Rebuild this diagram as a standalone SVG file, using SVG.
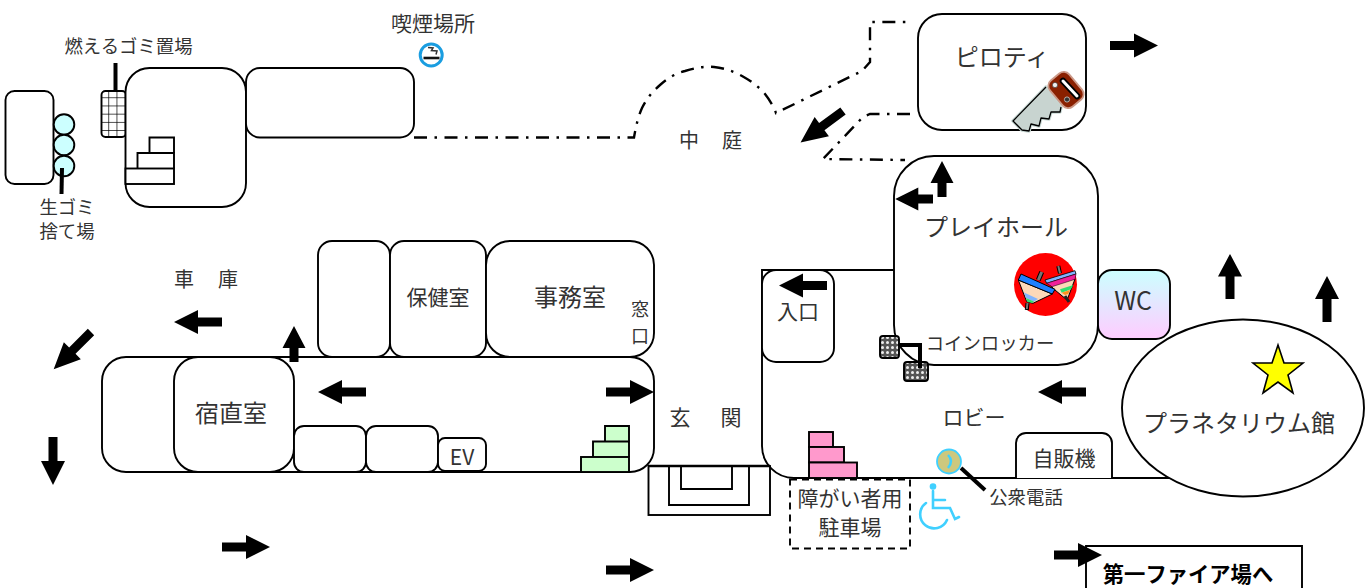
<svg xmlns="http://www.w3.org/2000/svg" width="1368" height="588" viewBox="0 0 1368 588">
<style>
.b{fill:#fff;stroke:#000;stroke-width:1.9}
.n{fill:none;stroke:#000;stroke-width:1.9}
.k{fill:none;stroke:#000;stroke-width:4}
.dd{fill:none;stroke:#000;stroke-width:2.4;stroke-dasharray:13 7.500 2.500 7.500}
.cy{fill:none;stroke:#40d0ff;stroke-width:2.6;stroke-linecap:round}
text{font-family:"Noto Sans CJK JP","Noto Sans",sans-serif;fill:#333;text-anchor:middle;font-weight:400}
.s18{font-size:18.4px}.s21{font-size:21px}.s24{font-size:24px}
</style>
<defs>
<path id="ar" d="M0-4.500H24V-12L48 0 24 12V4.500H0Z" fill="#000"/>
<path id="ars" d="M0-4.500H14V-11.500L36 0 14 11.500V4.500H0Z" fill="#000"/>
<pattern id="grid" width="8.200" height="8.200" patternUnits="userSpaceOnUse" x="101" y="90"><path d="M8.200 0V8.200M0 8.200H8.200" stroke="#000" stroke-width="1.400" fill="none"/></pattern>
<pattern id="dots" width="5" height="5" patternUnits="userSpaceOnUse"><rect width="5" height="5" fill="#555"/><circle cx="2.500" cy="2.500" r="1.500" fill="#eee"/></pattern>
<linearGradient id="wc" x1="0" y1="0" x2="0" y2="1"><stop offset="0" stop-color="#ccffff"/><stop offset="1" stop-color="#ffccff"/></linearGradient>
</defs>
<g id="connectors">
<path class="dd" d="M414 137.500H634C636 126 638 117 642 108C647 98 652 92 660 85C668 78 676 73 685 71C695 68 704 66 714 67C724 68 733 71 742 76C751 81 758 86 765 94C769 99 774 107 776 113L862 71L870 62V22H912"/>
<path class="dd" d="M910 114H870L863 117L823 159L905 160"/>
</g>
<g id="lobby">
<path class="n" d="M894 270H762V446A32 32 0 0 0 794 478H1172"/>
</g>
<g id="entrance">
<rect class="b" x="648.500" y="466" width="121.500" height="49"/>
<path class="n" d="M669 466V505H749V466M681 466V489H732V466"/>
<path d="M648 466H770" stroke="#000" stroke-width="2.400"/>
</g>
<g id="block-a"><rect class="b" x="5.500" y="91" width="48" height="93" rx="9"/>
<circle class="b" cx="64" cy="124.500" r="10.300" style="fill:#ccffff"/><circle class="b" cx="64" cy="145" r="10.300" style="fill:#ccffff"/><circle class="b" cx="64" cy="166" r="10.300" style="fill:#ccffff"/>
<path class="k" d="M62 168L61.500 194"/>
</g>
<g id="burnable-trash"><rect x="101.500" y="91" width="24.500" height="46" rx="4" fill="#fff"/><rect x="101.500" y="91" width="24.500" height="46" rx="4" fill="url(#grid)" stroke="#000" stroke-width="1.900"/><path class="k" d="M115.500 63V91"/></g>
<g id="block-b"><rect class="b" x="125.500" y="68" width="120.500" height="139" rx="24"/>
<path class="b" d="M149.500 153V137.500H174V153"/><path class="b" d="M137.500 168.500V153H174V168.500"/><rect class="b" x="125.500" y="168.500" width="48.500" height="15.500"/>
</g>
<g id="block-c"><rect class="b" x="246" y="68" width="168" height="69.500" rx="14"/></g>
<g id="smoking"><circle cx="431.200" cy="55" r="11" fill="#fff" stroke="#1a9de0" stroke-width="3"/><path d="M423.500 58H439.500" stroke="#111" stroke-width="2.600"/><path d="M428 47.500L433 48L431.500 50.500L437 51L436 54.500" stroke="#333" stroke-width="1.500" fill="none"/></g>
<g id="pilotis"><rect class="b" x="918" y="14" width="168" height="116" rx="24"/>
<g id="saw">
<path d="M1046 87L1013 121L1022 130L1029 131L1031 124L1039 126L1041 118L1049 119L1051 112L1060 112L1061 107Z" fill="#c8d4d0" stroke="#c8d8d4" stroke-width="3.500" stroke-linejoin="round"/>
<path d="M1046 87L1013 121L1022 130L1029 131L1031 124L1039 126L1041 118L1049 119L1051 112L1060 112L1061 107" fill="#c8d4d0" stroke="#000" stroke-width="1.300" stroke-linejoin="round"/>
<rect x="-17" y="-12.500" width="34" height="25" rx="7" transform="translate(1066 90) rotate(50)" fill="#8a2000" stroke="#c98" stroke-width="1.800"/>
<path d="M1063 81L1077 96" stroke="#000" stroke-width="6.500" stroke-linecap="round"/><path d="M1063 81L1077 96" stroke="#fff" stroke-width="3" stroke-linecap="round"/>
<circle cx="1055" cy="85" r="2.600" fill="#eee" stroke="#333" stroke-width=".6"/><circle cx="1067" cy="99.500" r="2.600" fill="#333" stroke="#ccc" stroke-width=".8"/>
</g></g>
<g id="playhall"><rect class="b" x="894" y="156" width="204" height="209" rx="40"/>
<g id="tops"><circle cx="1045.500" cy="284.500" r="31.500" fill="#f00"/>
<path d="M1058.300 266L1060 273.300" stroke="#000" stroke-width="4"/><path d="M1058.300 266L1060 273.300" stroke="#777" stroke-width="2"/>
<path d="M1046 281L1075 279L1069 295L1067 300L1055 290Z" fill="#fdd8b8" stroke="#000" stroke-width="1"/>
<path d="M1060 289.300L1073.300 285L1071 289.300L1061.700 292.700Z" fill="#30e070"/>
<path d="M1061.700 292.700L1070 290L1068.300 294L1065 295Z" fill="#ff9020"/>
<path d="M1065 296L1069 302" stroke="#222" stroke-width="3"/>
<path d="M1045 280L1075 270.700L1076 274L1046.700 283.300Z" fill="#80b4ff" stroke="#000" stroke-width=".8"/>
<path d="M1046.700 283.300L1076 274L1075 279.300L1052 286.700Z" fill="#f0209a" stroke="#000" stroke-width=".5"/>
<path d="M1041.700 272L1038.300 280" stroke="#000" stroke-width="5"/><path d="M1041.700 272L1038.300 280" stroke="#777" stroke-width="3"/>
<path d="M1027.500 303L1026.800 310" stroke="#000" stroke-width="4"/><path d="M1027.500 303L1026.800 309" stroke="#777" stroke-width="2"/>
<path d="M1018.300 280L1026.700 301.700L1033 303.300L1052.300 294Z" fill="#fdd8b8" stroke="#000" stroke-width="1"/>
<path d="M1024 292.500L1038 299L1034 301.500L1026 298Z" fill="#80b4ff"/>
<path d="M1026 298L1034 301.500L1032 303L1027.300 301.700Z" fill="#30e070"/>
<path d="M1021 274L1055 289.300L1052.300 294L1018.300 280Z" fill="#1e80ff" stroke="#000" stroke-width="1"/>
</g></g>
<g id="wc-room"><rect class="b" x="1098" y="270" width="72" height="69" rx="14" style="fill:url(#wc)"/></g>
<g id="entry"><rect class="b" x="762" y="270" width="72" height="92" rx="14"/></g>
<g id="lockers"><rect x="880" y="336" width="19" height="22" rx="3" fill="url(#dots)" stroke="#000" stroke-width="1.900"/><rect x="904" y="362" width="24" height="19" rx="3" fill="url(#dots)" stroke="#000" stroke-width="1.900"/><path class="k" d="M899 345H920V368"/></g>
<g id="planetarium"><ellipse class="b" cx="1243" cy="408" rx="121" ry="88.500"/><path d="M1278 345L1284 363H1303L1288 375L1293 393L1278 382L1263 393L1268 375L1253 363H1272Z" fill="#ff0" stroke="#000" stroke-width="1.600"/></g>
<g id="room-1"><rect class="b" x="318" y="241" width="72" height="116" rx="14"/></g>
<g id="room-health"><rect class="b" x="390" y="241" width="96" height="116" rx="14"/></g>
<g id="room-office"><rect class="b" x="486" y="241" width="168" height="116" rx="24"/></g>
<g id="main-block"><rect class="b" x="102" y="357" width="552" height="115" rx="24"/>
<path class="b" d="M605 441.500V426H629V441.500" style="fill:#ccffcc"/><path class="b" d="M593 457V441.500H629V457" style="fill:#ccffcc"/><rect class="b" x="581" y="457" width="48" height="15" style="fill:#ccffcc"/></g>
<g id="room-duty"><rect class="b" x="174" y="357" width="120" height="115" rx="24"/></g>
<g id="room-2"><rect class="b" x="294" y="426" width="72" height="46" rx="10"/></g>
<g id="room-3"><rect class="b" x="366" y="426" width="72" height="46" rx="10"/></g>
<g id="room-ev"><rect class="b" x="438" y="438" width="48" height="33" rx="7"/></g>
<g id="vending"><path class="b" d="M1016 478V443A10 10 0 0 1 1026 433H1102A10 10 0 0 1 1112 443V478"/></g>
<g id="pink-stairs"><rect class="b" x="809" y="432" width="24" height="15" style="fill:#ff99cc"/><rect class="b" x="809" y="447" width="35" height="15.500" style="fill:#ff99cc"/><rect class="b" x="809" y="462.500" width="48" height="15.500" style="fill:#ff99cc"/></g>
<g id="parking"><rect x="790" y="479.500" width="120" height="69" fill="#fff" stroke="#000" stroke-width="1.900" stroke-dasharray="7 5"/></g>
<g id="phone"><path class="k" d="M961 468L985 490"/><circle cx="949" cy="461.500" r="12" fill="#cdc87e" stroke="#40d0ff" stroke-width="1.800"/><path d="M948 455Q954 461 948 468" fill="none" stroke="#40d0ff" stroke-width="2.400"/></g>
<g id="wheelchair"><circle cx="933" cy="486.500" r="3.300" fill="#40d0ff"/><path class="cy" d="M933 491V508H950L955 519L959 517M933 500H945M926 503A14 14 0 1 0 947 520"/></g>
<g id="next-site"><path class="b" d="M1086 588V546H1302V588"/></g>
<g id="arrows">
<use href="#ar" transform="translate(1110 45.500)"/>
<use href="#ar" transform="translate(606 392)"/>
<use href="#ar" transform="translate(222 547)"/>
<use href="#ar" transform="translate(606 570)"/>
<use href="#ar" transform="translate(1054 555)"/>
<use href="#ar" transform="translate(222 322) rotate(180)"/>
<use href="#ar" transform="translate(366 392) rotate(180)"/>
<use href="#ar" transform="translate(1086 392) rotate(180)"/>
<use href="#ar" transform="translate(827 285.500) rotate(180)"/>
<use href="#ar" transform="translate(1230 299) rotate(-90) scale(.94 1)"/>
<use href="#ar" transform="translate(1327 322) rotate(-90) scale(.96 1)"/>
<use href="#ar" transform="translate(53 437) rotate(90)"/>
<use href="#ar" transform="translate(91 332) rotate(135) scale(1.1 1)"/>
<use href="#ar" transform="translate(843 111) rotate(143.500) scale(1.1 1)"/>
<use href="#ars" transform="translate(294 362) rotate(-90)"/>
<use href="#ars" transform="translate(942 197) rotate(-90)"/>
<use href="#ars" transform="translate(933 199) rotate(180) scale(1.050 1)"/>
</g>
<g id="labels">
<text class="s18" x="128.500" y="52.500">燃えるゴミ置場</text>
<text class="s21" x="433" y="31">喫煙場所</text>
<text class="s18" x="67" y="214">生ゴミ</text>
<text class="s18" x="67" y="238">捨て場</text>
<text x="689" y="148" font-size="20">中</text><text x="732" y="148" font-size="20">庭</text>
<text x="184" y="287" font-size="20">車</text><text x="228" y="287" font-size="20">庫</text>
<text class="s21" x="438" y="305">保健室</text>
<text class="s24" x="570" y="306">事務室</text>
<text x="640" y="316" font-size="18">窓</text><text x="640" y="342.500" font-size="18">口</text>
<text class="s24" x="231" y="422">宿直室</text>
<text x="462" y="465" font-size="21">EV</text>
<text class="s21" x="680" y="425">玄</text><text class="s21" x="731" y="425">関</text>
<text x="974" y="425" font-size="21">ロビー</text>
<text class="s21" x="1064" y="466">自販機</text>
<text class="s18" x="1026" y="504">公衆電話</text>
<text class="s21" x="850" y="506">障がい者用</text>
<text class="s21" x="850" y="535">駐車場</text>
<text class="s18" x="990" y="350">コインロッカー</text>
<text class="s21" x="798" y="319">入口</text>
<text x="1133" y="310" font-size="25">WC</text>
<text class="s24" x="1239" y="432">プラネタリウム館</text>
<text class="s24" x="1002" y="66">ピロティ</text>
<text class="s24" x="996" y="236">プレイホール</text>
<text x="1188" y="582" font-size="21.300" style="font-weight:700;fill:#000">第一ファイア場へ</text>
</g>
</svg>
